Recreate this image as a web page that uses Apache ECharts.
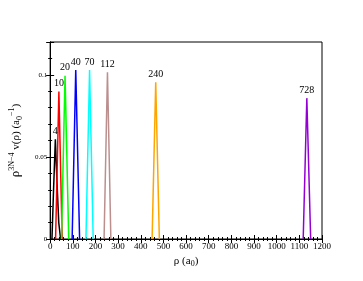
<!DOCTYPE html>
<html><head><meta charset="utf-8">
<script src="https://cdn.jsdelivr.net/npm/echarts@6/dist/echarts.min.js"></script>
<style>html,body{margin:0;padding:0;background:#fff}#c{width:363px;height:281px}</style>
</head><body><div id="c"></div>
<script>
var seriesNames = ['4','10','20','40','70','112','240','728'];
var colors = ['#000000','#ff0000','#00ff00','#0000ff','#00ffff','#bc8f8f','#ffa500','#9400d3'];
var s4   = [[8,0],[15,0.03],[23,0.0608],[30,0.035],[38,0.01],[46,0]];
var s10  = [[24,0],[38.6,0.0898],[53,0]];
var s20  = [[50,0],[65.7,0.0994],[82,0]];
var s40  = [[97,0],[113,0.1029],[130,0]];
var s70  = [[158,0],[174,0.1029],[190,0]];
var s112 = [[238,0],[253,0.1016],[268,0]];
var s240 = [[450,0],[466,0.0955],[482,0]];
var s728 = [[1117,0],[1133,0.0858],[1150,0]];
var allData = [s4,s10,s20,s40,s70,s112,s240,s728];
var xTicks = {min:0, max:1200, interval:100};
var yTicks = {min:0, max:0.12, interval:0.05};

var font = 'Liberation Serif';
var series = allData.map(function(d,i){
  var peak = 0;
  d.forEach(function(p,j){ if(p[1]>d[peak][1]) peak=j; });
  return {
    type:'line', name:seriesNames[i], data:d.map(function(p,j){
      if(j===peak) return {value:p, label:{show:true, formatter:seriesNames[i], position:'top', distance:3,
        color:'#000', fontFamily:font, fontSize:10}};
      return p;
    }),
    showSymbol:true, symbol:'circle', symbolSize:0.01, lineStyle:{color:colors[i], width:1.5}, itemStyle:{color:colors[i]},
    label:{show:false}, animation:false, z:3
  };
});

var chart = echarts.init(document.getElementById('c'));
chart.setOption({
  backgroundColor:'#fff',
  animation:false,
  grid:{left:42, right:41, top:42, bottom:42, show:true, borderColor:'#000', borderWidth:1},
  xAxis:[{
    type:'value', min:xTicks.min, max:xTicks.max, interval:xTicks.interval,
    name:'ρ (a{s|0})', nameLocation:'middle', nameGap:15,
    nameTextStyle:{fontFamily:font, fontSize:11, color:'#000', rich:{s:{fontSize:8, verticalAlign:'bottom', padding:[6,0,0,0], fontFamily:font}}},
    axisLine:{show:true, lineStyle:{color:'#000'}},
    axisTick:{inside:true, length:4, lineStyle:{color:'#000'}},
    minorTick:{show:true, splitNumber:5, length:2, lineStyle:{color:'#000'}},
    axisLabel:{fontFamily:font, fontSize:9, color:'#000', margin:3, formatter:function(v){return String(v);}},
    splitLine:{show:false}
  },{
    type:'value', position:'top', min:xTicks.min, max:xTicks.max, interval:xTicks.interval,
    axisLine:{show:true, lineStyle:{color:'#000'}},
    axisTick:{inside:true, length:4, lineStyle:{color:'#000'}},
    minorTick:{show:true, splitNumber:5, length:2, lineStyle:{color:'#000'}},
    axisLabel:{show:false}, splitLine:{show:false}
  }],
  yAxis:[{
    type:'value', min:yTicks.min, max:yTicks.max, interval:yTicks.interval,
    name:'{b|ρ}{u|3N−4}{n| v(ρ) (a}{s|0}{u|−1}{n|)}', nameLocation:'middle', nameGap:24, nameRotate:90,
    nameTextStyle:{fontFamily:font, fontSize:11, color:'#000', rich:{
      b:{fontSize:13, fontFamily:font, color:'#000'},
      n:{fontSize:11, fontFamily:font, color:'#000'},
      u:{fontSize:8, fontFamily:font, color:'#000', verticalAlign:'top', padding:[0,0,8,0]},
      s:{fontSize:8, fontFamily:font, color:'#000', verticalAlign:'bottom', padding:[6,0,0,0]}
    }},
    axisLine:{show:true, lineStyle:{color:'#000'}},
    axisTick:{inside:true, length:4, lineStyle:{color:'#000'}},
    minorTick:{show:true, splitNumber:5, length:2, lineStyle:{color:'#000'}},
    axisLabel:{fontFamily:font, fontSize:7, color:'#000', margin:3, showMaxLabel:false,
      formatter:function(v){return String(Math.round(v*100)/100);}},
    splitLine:{show:false}
  },{
    type:'value', position:'right', min:yTicks.min, max:yTicks.max, interval:yTicks.interval,
    axisLine:{show:true, lineStyle:{color:'#000'}},
    axisTick:{inside:true, length:4, lineStyle:{color:'#000'}},
    minorTick:{show:true, splitNumber:5, length:2, lineStyle:{color:'#000'}},
    axisLabel:{show:false}, splitLine:{show:false}
  }],
  series:series
});
</script></body></html>
